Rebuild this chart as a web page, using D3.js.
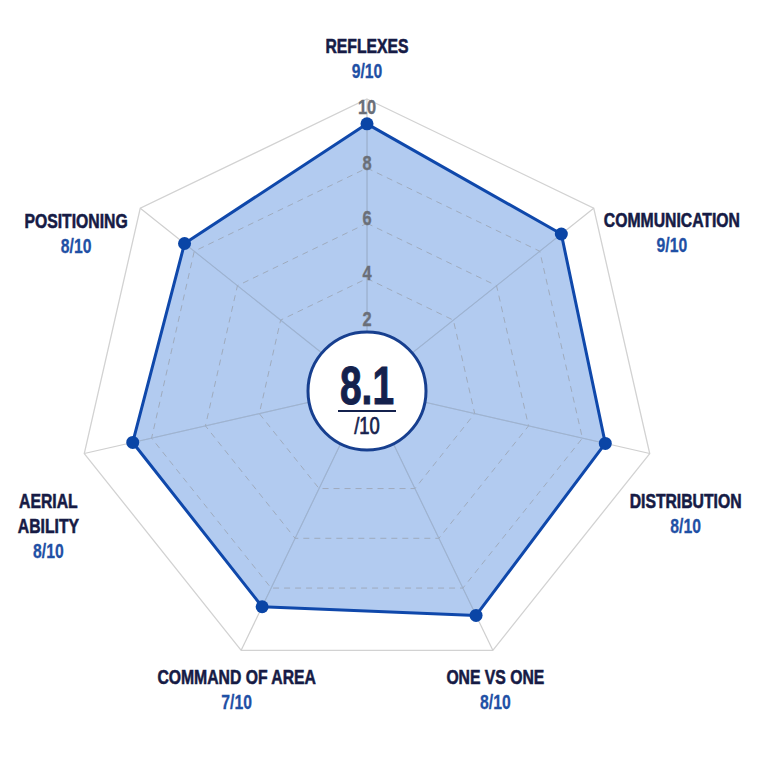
<!DOCTYPE html>
<html>
<head>
<meta charset="utf-8">
<script src="https://cdn.jsdelivr.net/npm/d3@7"></script>
<style>
  html, body { margin: 0; padding: 0; background: #fff; }
  svg { display: block; }
</style>
</head>
<body>
<svg id="chart"></svg>
<script>
// Chart data
const categories = ["REFLEXES", "COMMUNICATION", "DISTRIBUTION", "ONE VS ONE", "COMMAND OF AREA", "AERIAL ABILITY", "POSITIONING"];
const labelLines = [["REFLEXES"], ["COMMUNICATION"], ["DISTRIBUTION"], ["ONE VS ONE"], ["COMMAND OF AREA"], ["AERIAL", "ABILITY"], ["POSITIONING"]];
const scores = [9, 9, 8, 8, 7, 8, 8];          // shown under each label
const plotted = [9.6, 9.0, 8.85, 9.1, 8.75, 8.7, 8.45]; // polygon radius values
const ringTicks = [2, 4, 6, 8];
const tickLabels = [2, 4, 6, 8, 10];
const overall = "8.1";
const outOf = "/10";

// Layout
const width = 768, height = 768;
const cx = 367, cy = 389;
const outerR = 290;
const innerR = 59;
const labelR = 335;
// hand tuning of where each label block sits, relative to its axis point
const labelNudge = [[0, 4], [43, 52], [-8, 49], [-17, -2], [15, -2], [8, 62], [-29, 53]];

const FONT = "'Liberation Sans', Arial, sans-serif";
const SQUEEZE = 0.75; // horizontal squeeze to get a condensed look

const n = categories.length;
const r = d3.scaleLinear().domain([0, 10.5]).range([0, outerR]);
const angle = i => i * 2 * Math.PI / n;
const pt = (i, rad) => [cx + rad * Math.sin(angle(i)), cy - rad * Math.cos(angle(i))];

const svg = d3.select("#chart")
    .attr("width", width)
    .attr("height", height)
    .attr("viewBox", [0, 0, width, height]);

// condensed text helper (thin stroke in the fill colour makes it a bit heavier)
function addText(parent, x, y, str, size, color, weight, sx = SQUEEZE, thick = 0.6) {
    return parent.append("text")
        .attr("transform", `translate(${x},${y}) scale(${sx},1)`)
        .attr("text-anchor", "middle")
        .attr("font-family", FONT)
        .attr("font-size", size)
        .attr("font-weight", weight)
        .attr("fill", color)
        .attr("stroke", color)
        .attr("stroke-width", thick)
        .text(str);
}

const poly = rad => d3.range(n).map(i => pt(i, rad));
const lineClosed = d3.line().curve(d3.curveLinearClosed);

// Outer frame
svg.append("path")
    .attr("d", lineClosed(poly(outerR)))
    .attr("fill", "none")
    .attr("stroke", "#d2d2d2")
    .attr("stroke-width", 1.3);

// Spokes
svg.append("g")
    .selectAll("line")
    .data(d3.range(n))
    .join("line")
    .attr("x1", cx).attr("y1", cy)
    .attr("x2", i => pt(i, outerR)[0])
    .attr("y2", i => pt(i, outerR)[1])
    .attr("stroke", "#cfcfcf")
    .attr("stroke-width", 1.2);

// Data area
svg.append("path")
    .attr("d", lineClosed(plotted.map((v, i) => pt(i, r(v)))))
    .attr("fill", "#7fa8e6")
    .attr("fill-opacity", 0.6)
    .attr("stroke", "none");

// Dashed rings (drawn over the fill)
svg.append("g")
    .selectAll("path")
    .data(ringTicks)
    .join("path")
    .attr("d", v => lineClosed(poly(r(v))))
    .attr("fill", "none")
    .attr("stroke", "#9aa3b0")
    .attr("stroke-opacity", 0.8)
    .attr("stroke-width", 1)
    .attr("stroke-dasharray", "6,5");

// Spokes again lightly on top of fill
svg.append("g")
    .selectAll("line")
    .data(d3.range(n))
    .join("line")
    .attr("x1", cx).attr("y1", cy)
    .attr("x2", i => pt(i, r(plotted[i]))[0])
    .attr("y2", i => pt(i, r(plotted[i]))[1])
    .attr("stroke", "#9fb0c8")
    .attr("stroke-opacity", 0.7)
    .attr("stroke-width", 1);

// Outline
svg.append("path")
    .attr("d", lineClosed(plotted.map((v, i) => pt(i, r(v)))))
    .attr("fill", "none")
    .attr("stroke", "#0f48ab")
    .attr("stroke-width", 3)
    .attr("stroke-linejoin", "round");

// Tick labels along top axis
const ticksG = svg.append("g");
tickLabels.forEach(v => {
    addText(ticksG, cx, cy - Math.max(r(v) + 6, innerR + 12) + 7.5, v, 21, "#6a6f78", "bold", 0.78, 0.4);
});

// Dots
svg.append("g")
    .selectAll("circle")
    .data(plotted)
    .join("circle")
    .attr("cx", (v, i) => pt(i, r(v))[0])
    .attr("cy", (v, i) => pt(i, r(v))[1])
    .attr("r", 6.5)
    .attr("fill", "#0a45a6");

// Centre badge
const badge = svg.append("g");
badge.append("circle")
    .attr("cx", cx).attr("cy", cy + 2)
    .attr("r", innerR)
    .attr("fill", "#fff")
    .attr("stroke", "#173f8f")
    .attr("stroke-width", 3);
addText(badge, cx, cy + 15, overall, 54, "#14214d", "bold", 0.72, 1);
badge.append("line")
    .attr("x1", cx - 29).attr("x2", cx + 29)
    .attr("y1", cy + 22).attr("y2", cy + 22)
    .attr("stroke", "#14214d")
    .attr("stroke-width", 2);
addText(badge, cx, cy + 45, outOf, 23, "#14214d", "normal", 0.8, 0.7);

// Category labels
const lineH = 25;
const labels = svg.append("g")
    .selectAll("g")
    .data(categories)
    .join("g")
    .attr("transform", (d, i) => {
        const [x, y] = pt(i, labelR);
        const nLines = labelLines[i].length + 1;
        // centre of block -> first baseline
        const firstBase = y + labelNudge[i][1] - (lineH * (nLines - 1) - 15) / 2;
        return `translate(${x + labelNudge[i][0]},${firstBase})`;
    });

labels.each(function(d, i) {
    const g = d3.select(this);
    labelLines[i].forEach((t, k) => {
        addText(g, 0, k * lineH, t, 21, "#161b45", "bold");
    });
    addText(g, 0, labelLines[i].length * lineH, scores[i] + "/10", 21, "#1f50a5", "bold", SQUEEZE, 0.3);
});
</script>
</body>
</html>
